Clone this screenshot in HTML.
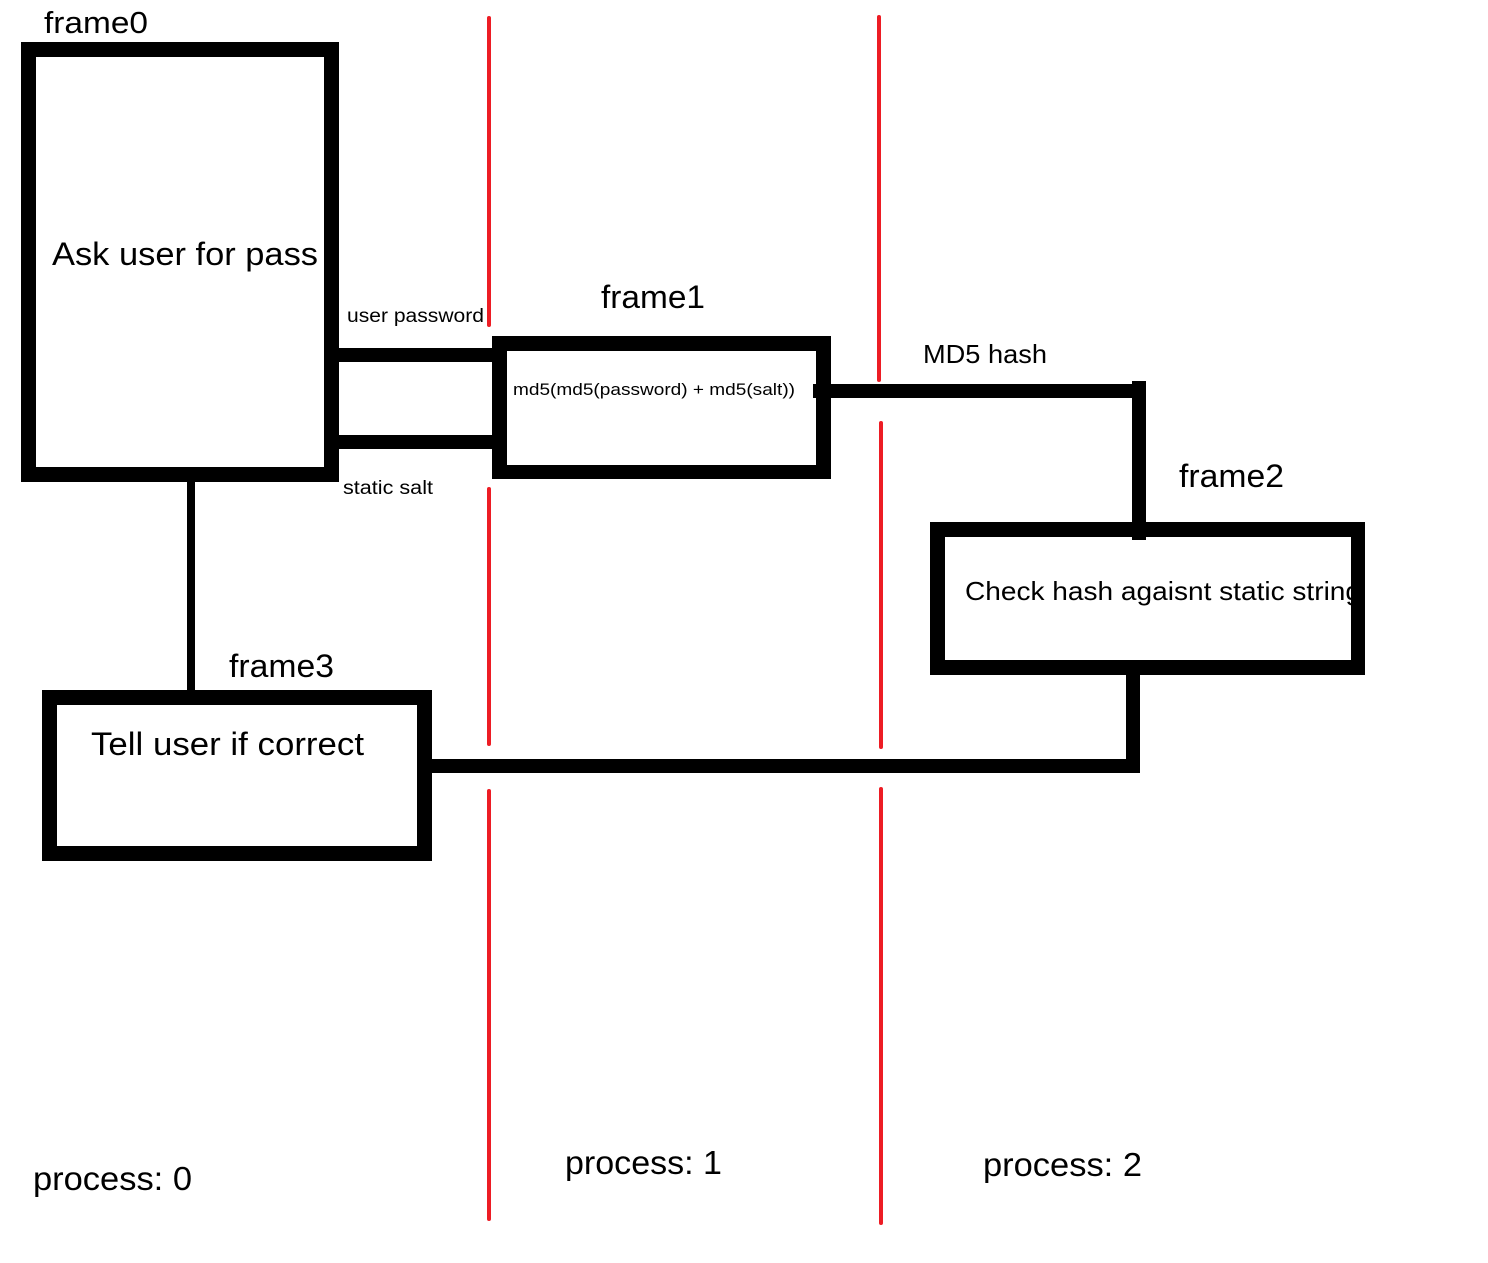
<!DOCTYPE html>
<html><head><meta charset="utf-8"><style>
html,body{margin:0;padding:0;background:#fff;width:1488px;height:1263px;overflow:hidden}
svg{display:block}
text{font-family:"Liberation Sans",sans-serif;fill:#000}
</style></head><body>
<svg width="1488" height="1263" viewBox="0 0 1488 1263" xmlns="http://www.w3.org/2000/svg">
<g stroke="#ed1c24" stroke-width="4" stroke-linecap="round">
<line x1="489" y1="18" x2="489" y2="325"/>
<line x1="489" y1="489" x2="489" y2="744"/>
<line x1="489" y1="791" x2="489" y2="1219"/>
<line x1="879" y1="17" x2="879" y2="380"/>
<line x1="881" y1="423" x2="881" y2="747"/>
<line x1="881" y1="789" x2="881" y2="1223"/>
</g>
<g fill="#000">
<rect x="21" y="42" width="318" height="15"/><rect x="21" y="467" width="318" height="15"/>
<rect x="21" y="42" width="15" height="440"/><rect x="324" y="42" width="15" height="440"/>
<rect x="339" y="348" width="153" height="14"/><rect x="339" y="435" width="153" height="14"/>
<rect x="492" y="336" width="339" height="15"/><rect x="492" y="465" width="339" height="14"/>
<rect x="492" y="336" width="15" height="143"/><rect x="816" y="336" width="15" height="143"/>
<rect x="813" y="384" width="333" height="14"/>
<rect x="1132" y="381" width="14" height="159"/>
<rect x="930" y="522" width="435" height="15"/><rect x="930" y="660" width="435" height="15"/>
<rect x="930" y="522" width="15" height="153"/><rect x="1351" y="522" width="14" height="153"/>
<rect x="1126" y="675" width="14" height="98"/>
<rect x="430" y="759" width="710" height="14"/>
<rect x="187" y="482" width="8" height="208"/>
<rect x="42" y="690" width="390" height="15"/><rect x="42" y="846" width="390" height="15"/>
<rect x="42" y="690" width="15" height="171"/><rect x="417" y="690" width="15" height="171"/>
</g>
<text x="44" y="33" font-size="31" textLength="104" lengthAdjust="spacingAndGlyphs">frame0</text>
<text x="52" y="265" font-size="32" textLength="266" lengthAdjust="spacingAndGlyphs">Ask user for pass</text>
<text x="347" y="322" font-size="19" textLength="137" lengthAdjust="spacingAndGlyphs">user password</text>
<text x="343" y="494" font-size="19" textLength="90" lengthAdjust="spacingAndGlyphs">static salt</text>
<text x="601" y="308" font-size="32" textLength="104" lengthAdjust="spacingAndGlyphs">frame1</text>
<text x="513" y="395" font-size="17" textLength="282" lengthAdjust="spacingAndGlyphs">md5(md5(password) + md5(salt))</text>
<text x="923" y="363" font-size="26" textLength="124" lengthAdjust="spacingAndGlyphs">MD5 hash</text>
<text x="1179" y="487" font-size="32" textLength="105" lengthAdjust="spacingAndGlyphs">frame2</text>
<svg x="945" y="537" width="406" height="123"><text x="20" y="63" font-size="26" textLength="396" lengthAdjust="spacingAndGlyphs">Check hash agaisnt static string</text></svg>
<text x="229" y="677" font-size="32" textLength="105" lengthAdjust="spacingAndGlyphs">frame3</text>
<text x="91" y="755" font-size="32" textLength="273" lengthAdjust="spacingAndGlyphs">Tell user if correct</text>
<text x="33" y="1190" font-size="33" textLength="159" lengthAdjust="spacingAndGlyphs">process: 0</text>
<text x="565" y="1174" font-size="33" textLength="157" lengthAdjust="spacingAndGlyphs">process: 1</text>
<text x="983" y="1176" font-size="33" textLength="159" lengthAdjust="spacingAndGlyphs">process: 2</text>
</svg>
</body></html>
